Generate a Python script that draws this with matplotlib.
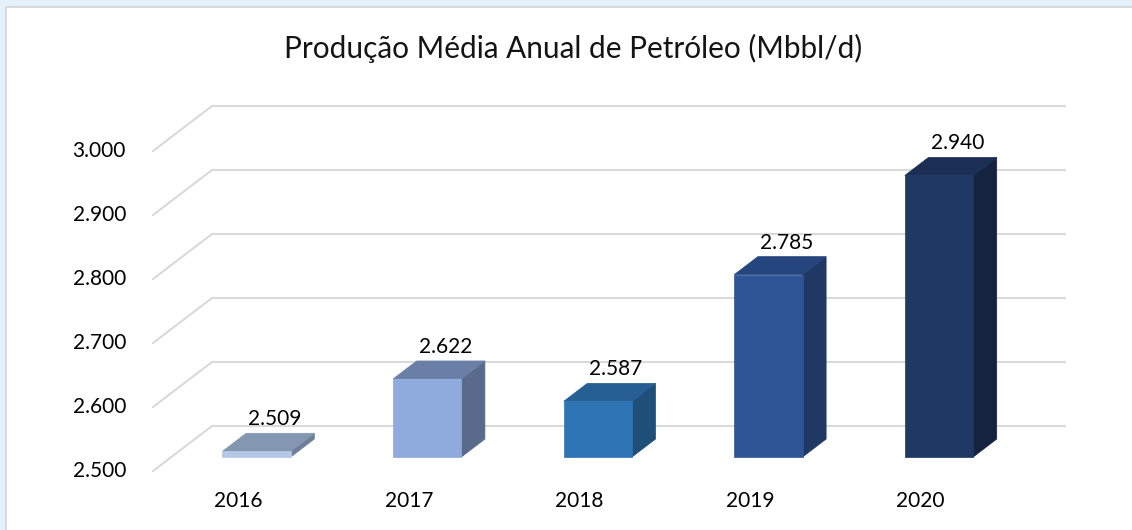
import matplotlib
matplotlib.use("Agg")
import matplotlib.pyplot as plt
from matplotlib.patches import Polygon, Rectangle
from matplotlib.lines import Line2D
from matplotlib.transforms import IdentityTransform
import numpy as np

# ---- data ----
years = ["2016", "2017", "2018", "2019", "2020"]
values = [2.509, 2.622, 2.587, 2.785, 2.940]
value_labels = ["2.509", "2.622", "2.587", "2.785", "2.940"]
yticks = [2.5, 2.6, 2.7, 2.8, 2.9, 3.0]
ytick_labels = ["2.500", "2.600", "2.700", "2.800", "2.900", "3.000"]
title = "Produção Média Anual de Petróleo (Mbbl/d)"

front_colors = ["#B4C7E7", "#8FAADC", "#2E75B6", "#2F5597", "#203864"]
top_colors = ["#8497B0", "#6A7FA8", "#265F93", "#24457D", "#1B2F55"]
side_colors = ["#6F7F99", "#5A6A8B", "#1F4E79", "#203864", "#16233F"]

FONT = "Lato"
W, H = 1132, 530
fig = plt.figure(figsize=(W / 100, H / 100), dpi=100)
fig.patch.set_facecolor("#E4F0FA")
fig.patches.append(Rectangle((6 / W, -0.1), 1.0, (H - 7) / H + 0.1, transform=fig.transFigure,
                             facecolor="white", edgecolor="#D3D3D3", linewidth=1.2,
                             zorder=-5))

# front plane of the 3D box
ax = fig.add_axes([153 / W, (H - 471) / H, 853 / W, 320 / H])
ax.set_xlim(0, len(years))
ax.set_ylim(2.5, 3.0)
ax.axis("off")
ax.set_zorder(5)

DX, DY = 59, 45  # depth offset (pixels) of the back wall


def proj(x, v, d):
    px, py = ax.transData.transform((x, v))
    return px + d * DX, py + d * DY


ident = IdentityTransform()

# gridlines: diagonal side wall + back wall
for v in yticks:
    p0 = proj(0, v, 0)
    p1 = proj(0, v, 1)
    p2 = proj(len(years), v, 1)
    fig.add_artist(Line2D([p0[0], p1[0], p2[0]], [p0[1], p1[1], p2[1]],
                          transform=ident, color="#D9D9D9", linewidth=1.5, zorder=1))

# y tick labels
for v, lab in zip(yticks, ytick_labels):
    ax.annotate(lab, xy=(0, v), xytext=(-27, 0), textcoords="offset pixels",
                ha="right", va="center", fontsize=15, family=FONT, color="black",
                annotation_clip=False)

# category labels
for i, yr in enumerate(years):
    ax.annotate(yr, xy=(i + 0.5, 2.5), xytext=(0, -30), textcoords="offset pixels",
                ha="center", va="center", fontsize=15, family=FONT, color="black",
                annotation_clip=False)

# bars
hw = 0.2
d0, d1 = 0.31, 0.71
base = 2.5
for i, v in enumerate(values):
    xl, xr = i + 0.5 - hw, i + 0.5 + hw
    front = [proj(xl, base, d0), proj(xr, base, d0), proj(xr, v, d0), proj(xl, v, d0)]
    top = [proj(xl, v, d0), proj(xr, v, d0), proj(xr, v, d1), proj(xl, v, d1)]
    side = [proj(xr, base, d0), proj(xr, base, d1), proj(xr, v, d1), proj(xr, v, d0)]
    for pts, c in ((side, side_colors[i]), (top, top_colors[i]), (front, front_colors[i])):
        fig.add_artist(Polygon(pts, closed=True, transform=ident, facecolor=c,
                               edgecolor=c, linewidth=0.5, zorder=3))
    ax.annotate(value_labels[i], xy=(i + 0.5, v),
                xytext=(0.62 * DX, d1 * DY + 4), textcoords="offset pixels",
                ha="center", va="bottom", fontsize=15, family=FONT, color="black",
                annotation_clip=False)

fig.text(573.5 / W, 1 - 48 / H, title, ha="center", va="center",
         fontsize=21.4, family=FONT, color="#141414")

fig.savefig("out.png", dpi=100)
